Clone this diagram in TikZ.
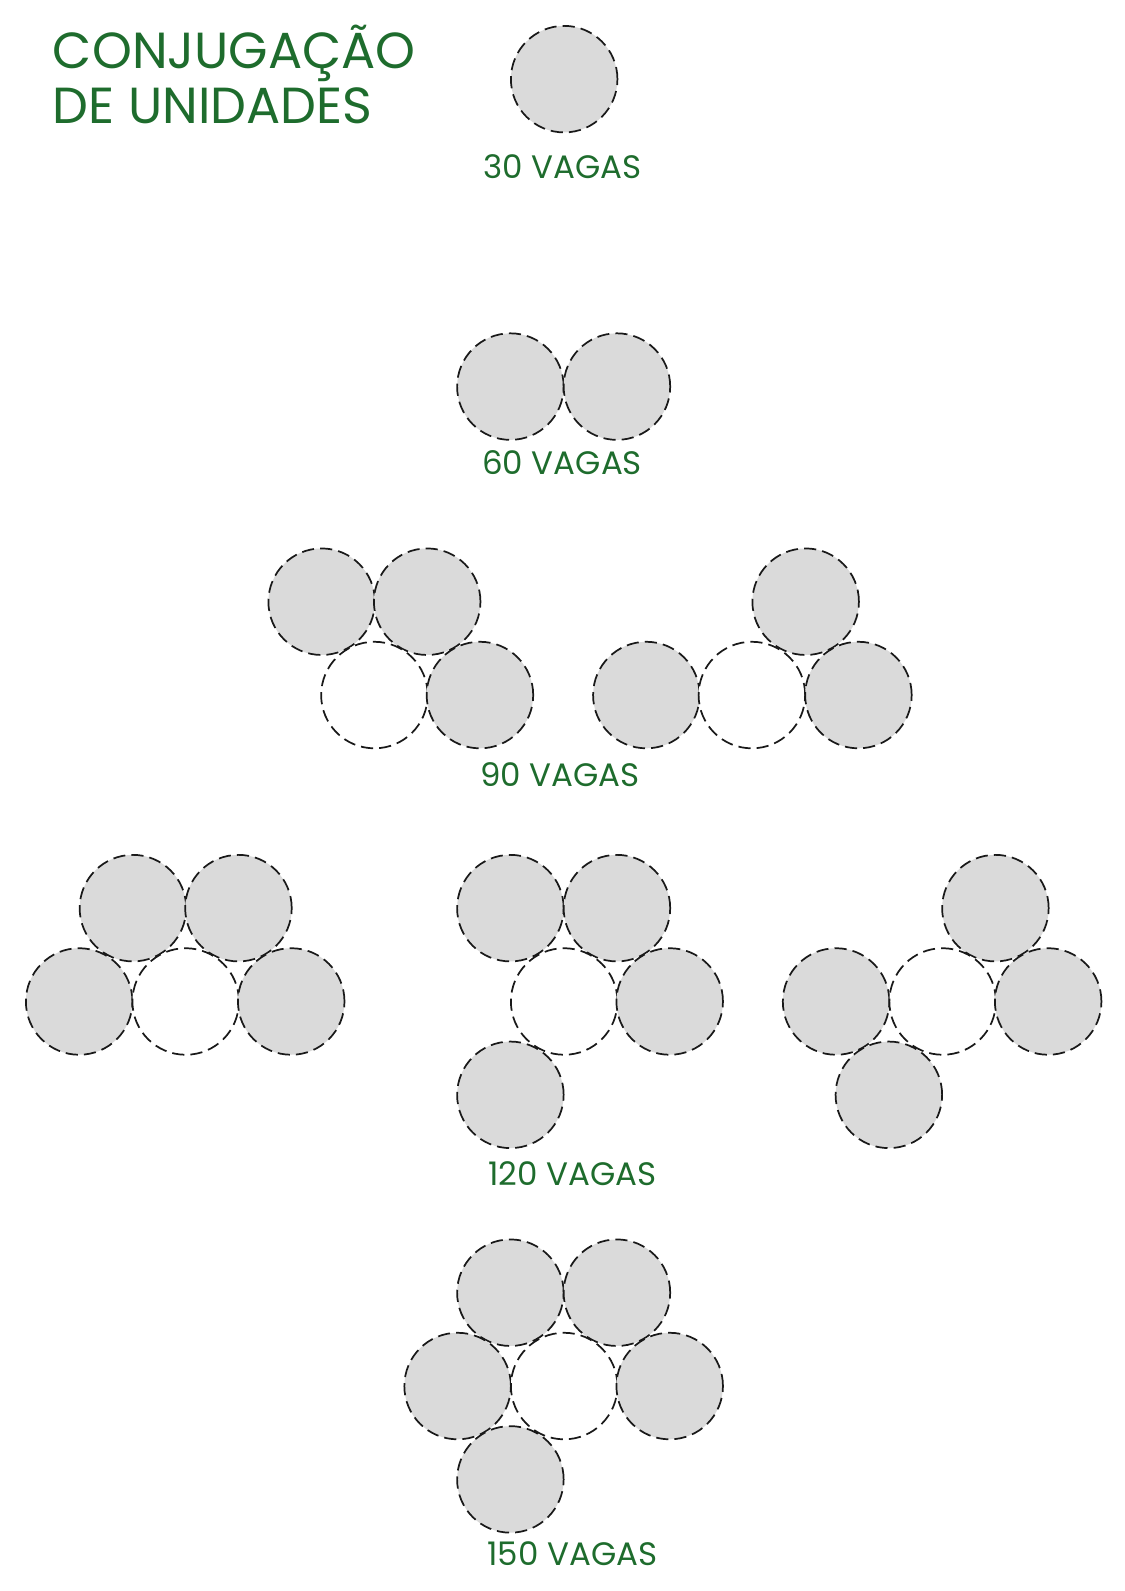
\documentclass[tikz,border=0pt]{standalone}
\usepackage{fontspec}
\setmainfont{Poppins}
\definecolor{tgreen}{RGB}{30,108,45}
\definecolor{cgray}{RGB}{218,218,218}
\definecolor{cline}{RGB}{25,25,25}
\begin{document}
\begin{tikzpicture}[x=1pt,y=-1pt,
  unitbase/.style={circle, minimum size=105pt, inner sep=0pt, draw=cline, line width=1.7pt, dash pattern=on 12pt off 6pt},
  full/.style={unitbase, fill=cgray},
  empty/.style={unitbase, fill=white},
  title/.style={text=tgreen, font=\fontsize{50}{50}\selectfont, anchor=base west, inner sep=0pt},
  lbl/.style={text=tgreen, font=\fontsize{32}{32}\selectfont, anchor=base, inner sep=0pt}]
\useasboundingbox (0,0) rectangle (1108,1568);
% title
\node[title] (t1) at (52,68) {CONJUGAÇÃO};
\node[title] (t2) at (52,122) {DE UNIDADES};
% 30
\node[full] (a1) at (556,78) {};
\node[lbl] (l30) at (554,176) {30 VAGAS};
% 60
\node[full] (b1) at (503,381) {};
\node[full] (b2) at (608,381) {};
\node[lbl] (l60) at (554,468) {60 VAGAS};
% 90 left
\node[full] (c1) at (317,593) {};
\node[full] (c2) at (421,593) {};
\node[empty] (c3) at (369,685) {};
\node[full] (c4) at (473,685) {};
% 90 right
\node[full] (d1) at (794,593) {};
\node[full] (d2) at (637,685) {};
\node[empty] (d3) at (741,685) {};
\node[full] (d4) at (846,685) {};
\node[lbl] (l90) at (552,775) {90 VAGAS};
% 120 left
\node[full] (e1) at (131,895) {};
\node[full] (e2) at (235,895) {};
\node[full] (e3) at (78,987) {};
\node[empty] (e4) at (183,987) {};
\node[full] (e5) at (287,987) {};
% 120 middle
\node[full] (f1) at (503,895) {};
\node[full] (f2) at (608,895) {};
\node[empty] (f3) at (556,987) {};
\node[full] (f4) at (660,987) {};
\node[full] (f5) at (503,1079) {};
% 120 right
\node[full] (g1) at (981,895) {};
\node[full] (g2) at (824,987) {};
\node[empty] (g3) at (929,987) {};
\node[full] (g4) at (1033,987) {};
\node[full] (g5) at (876,1079) {};
\node[lbl] (l120) at (564,1168) {120 VAGAS};
% 150
\node[full] (h1) at (503,1274) {};
\node[full] (h2) at (608,1274) {};
\node[full] (h3) at (451,1366) {};
\node[empty] (h4) at (556,1366) {};
\node[full] (h5) at (660,1366) {};
\node[full] (h6) at (503,1458) {};
\node[lbl] (l150) at (564,1543) {150 VAGAS};
\end{tikzpicture}
\end{document}
